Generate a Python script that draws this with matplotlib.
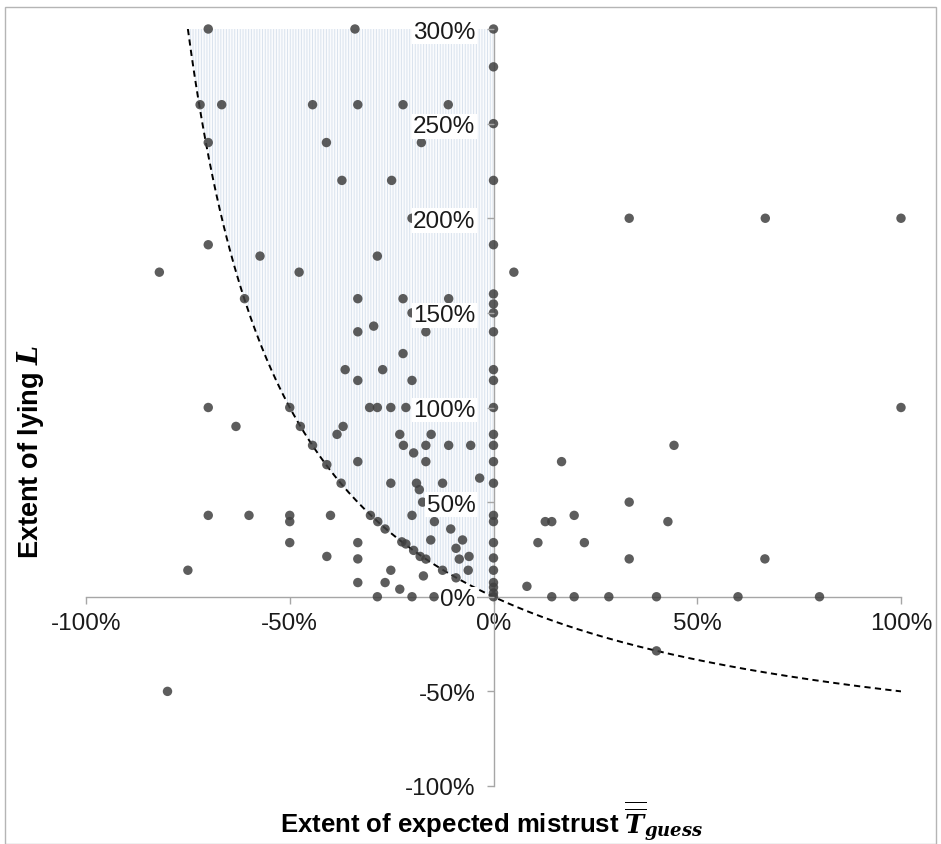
import numpy as np
import matplotlib
matplotlib.use("Agg")
import matplotlib.pyplot as plt
from matplotlib.patches import Rectangle
from matplotlib.ticker import FuncFormatter

plt.rcParams['font.family'] = ['Liberation Sans', 'DejaVu Sans']
plt.rcParams['mathtext.fontset'] = 'dejavuserif'
plt.rcParams['hatch.linewidth'] = 0.7

# Extent of expected mistrust (x) and extent of lying (y), as fractions
mistrust = [
    -0.70, -0.34, 0.0,
    0.0,
    -0.72, -0.667, -0.444, -0.333, -0.222, -0.111,
    0.0,
    -0.70, -0.41, -0.177,
    -0.372, -0.25, 0.0,
    -0.20, 0.333, 0.667, 1.0,
    -0.70, 0.0,
    -0.573, -0.285,
    -0.82, -0.477, 0.05,
    0.0,
    -0.611, -0.333, -0.222, -0.11,
    0.0,
    -0.20, 0.0,
    -0.294,
    -0.333, -0.166, 0.0,
    -0.222,
    -0.364, -0.272, 0.0,
    -0.333, -0.20, 0.0,
    -0.70, -0.50, -0.304, -0.285, -0.252, -0.215, 0.0, 1.0,
    -0.632, -0.474, -0.369,
    -0.384, -0.23, -0.153, 0.0,
    -0.444, -0.221, -0.166, -0.11, -0.056, 0.0, 0.443,
    -0.196,
    -0.333, -0.166, 0.0, 0.167,
    -0.409,
    -0.034,
    -0.374, -0.252, -0.189, -0.125, 0.0,
    -0.182,
    -0.174, 0.333,
    -0.70, -0.60, -0.50, -0.40, -0.302, -0.20, 0.0, 0.198,
    -0.50, -0.284, -0.145, 0.0, 0.127, 0.143, 0.428,
    -0.266, -0.105,
    -0.50, -0.333, -0.225, -0.215, -0.154, -0.076, 0.0, 0.109, 0.223,
    -0.092,
    -0.196,
    -0.409, -0.333, -0.18, -0.166, -0.084, -0.06, 0.0, 0.333, 0.666,
    -0.75, -0.252, -0.125, -0.062, 0.0,
    -0.172,
    -0.092,
    -0.333, -0.266, 0.0,
    0.082, 0.0,
    -0.23,
    0.0,
    -0.285, -0.20, -0.146, 0.0, 0.143, 0.198, 0.283, 0.40, 0.60, 0.80,
    0.40, -0.80,
]
lying = [
    3.0, 3.0, 3.0,
    2.8,
    2.6, 2.6, 2.6, 2.6, 2.6, 2.6,
    2.5,
    2.4, 2.4, 2.4,
    2.2, 2.2, 2.2,
    2.0, 2.0, 2.0, 2.0,
    1.86, 1.86,
    1.8, 1.8,
    1.715, 1.715, 1.715,
    1.60,
    1.575, 1.575, 1.575, 1.575,
    1.547,
    1.50, 1.50,
    1.43,
    1.40, 1.40, 1.40,
    1.285,
    1.20, 1.20, 1.20,
    1.143, 1.143, 1.143,
    1.0, 1.0, 1.0, 1.0, 1.0, 1.0, 1.0, 1.0,
    0.90, 0.90, 0.90,
    0.858, 0.858, 0.858, 0.858,
    0.80, 0.80, 0.80, 0.80, 0.80, 0.80, 0.80,
    0.76,
    0.714, 0.714, 0.714, 0.714,
    0.698,
    0.627,
    0.60, 0.60, 0.60, 0.60, 0.60,
    0.566,
    0.50, 0.50,
    0.43, 0.43, 0.43, 0.43, 0.43, 0.43, 0.43, 0.43,
    0.397, 0.397, 0.397, 0.397, 0.397, 0.397, 0.397,
    0.358, 0.358,
    0.286, 0.286, 0.29, 0.279, 0.30, 0.30, 0.286, 0.286, 0.286,
    0.256,
    0.245,
    0.213, 0.20, 0.213, 0.199, 0.199, 0.213, 0.205, 0.20, 0.20,
    0.14, 0.14, 0.14, 0.14, 0.14,
    0.11,
    0.10,
    0.075, 0.075, 0.075,
    0.055, 0.05,
    0.04,
    0.02,
    0.0, 0.0, 0.0, 0.0, 0.0, 0.0, 0.0, 0.0, 0.0, 0.0,
    -0.286, -0.50,
]

x_ticks = [-1.0, -0.5, 0.0, 0.5, 1.0]
y_ticks = [-1.0, -0.5, 0.0, 0.5, 1.0, 1.5, 2.0, 2.5, 3.0]

fig = plt.figure(figsize=(9.41, 8.45), dpi=100)
ax = fig.add_axes([86/941, 1-787/845, (901-86)/941, (787-30)/845])

# indifference curve L = -T/(1+T)
tc = np.linspace(-0.75, 1.0, 400)
lc = -tc / (1 + tc)
# shaded region between the curve and T = 0 for L in [0, 3]
ls = np.linspace(0, 3.0, 300)
ts = -ls / (1 + ls)
ax.fill_betweenx(ls, ts, 0, facecolor='#fafbfd', edgecolor='#d9e3ee',
                 hatch='||||||', linewidth=0, zorder=1)
ax.plot(tc, lc, color='black', linestyle=(0, (3.2, 2.2)), linewidth=1.4, zorder=2.6)

ax.scatter(mistrust, lying, s=46, color='#404040', alpha=0.85,
           edgecolors='none', zorder=3, clip_on=False)

ax.set_xlim(-1, 1)
ax.set_ylim(-1, 3)
for side in ['top', 'right']:
    ax.spines[side].set_visible(False)
for side in ['left', 'bottom']:
    ax.spines[side].set_position(('data', 0))
    ax.spines[side].set_color('#a6a6a6')
    ax.spines[side].set_linewidth(1.0)
    ax.spines[side].set_zorder(2.5)

ax.set_xticks(x_ticks)
ax.set_yticks(y_ticks)
pct = FuncFormatter(lambda v, p: f"{v*100:.0f}%")
ax.xaxis.set_major_formatter(pct)
ax.yaxis.set_major_formatter(pct)
ax.tick_params(axis='both', direction='out', length=5, width=1.0,
               color='#a6a6a6', labelsize=17.5, labelcolor='#1a1a1a')
ax.tick_params(axis='x', pad=6)
ax.tick_params(axis='y', pad=8)
ax.yaxis.set_zorder(4)
for lab in ax.get_yticklabels():
    lab.set_bbox(dict(facecolor='white', edgecolor='none', pad=1.0))

ax.patch.set_visible(False)

fig.text(30/941, 1-452/845, r"Extent of lying $\boldsymbol{L}$", rotation=90,
         ha='center', va='center', fontsize=19.5, fontweight='bold')
fig.text(492/941, 1-822/845,
         r"Extent of expected mistrust $\overline{\overline{\boldsymbol{T}}}_{\boldsymbol{guess}}$",
         ha='center', va='center', fontsize=18.5, fontweight='bold')

fig.patches.append(Rectangle((5/941, 0.0), 931/941, 1-8/845,
                             transform=fig.transFigure, fill=False,
                             edgecolor='#b5b5b5', linewidth=1.0))

fig.savefig('out.png', dpi=100)
